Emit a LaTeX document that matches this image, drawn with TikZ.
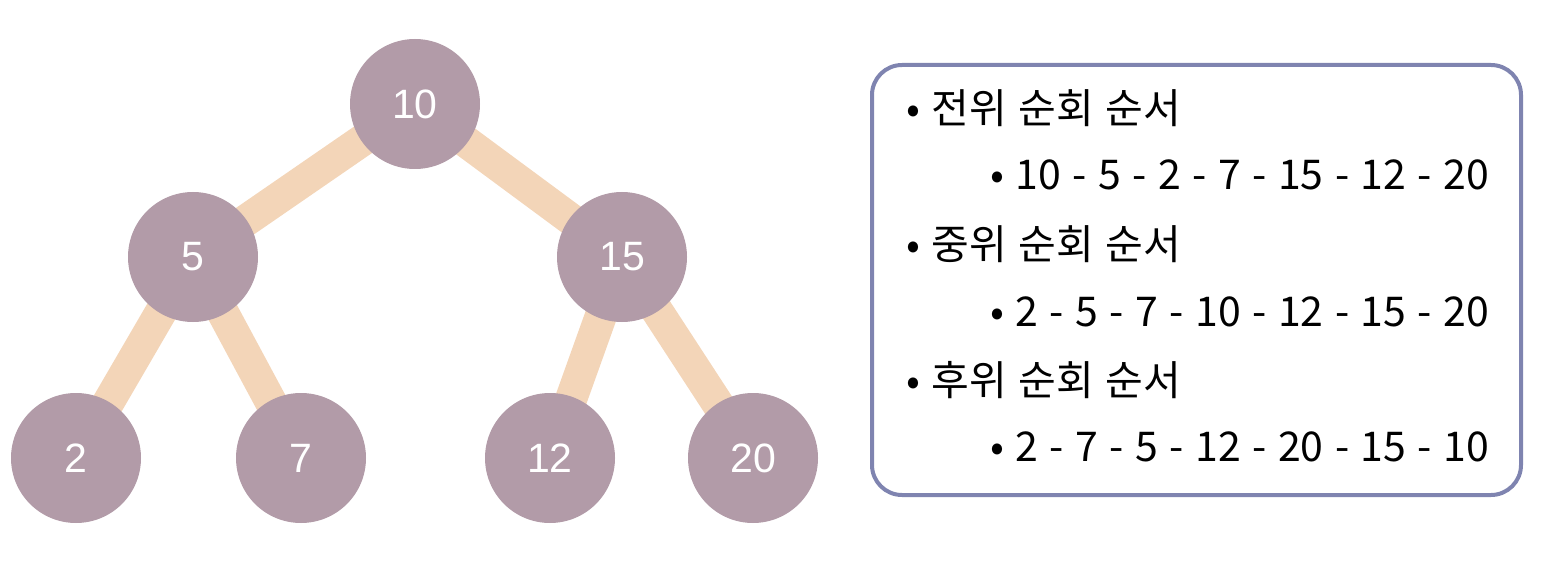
\documentclass[tikz,border=0pt]{standalone}
\usepackage{fontspec}
\setmainfont{Liberation Sans}
\newfontfamily\krfont[WordSpace=1.25]{Noto Sans CJK KR}
\usetikzlibrary{backgrounds}
\definecolor{nodefill}{HTML}{B29BA8}
\definecolor{edgecol}{HTML}{F3D5B8}
\definecolor{boxcol}{HTML}{7F84B0}
\tikzset{
  treenode/.style={circle, fill=nodefill, minimum size=130pt, inner sep=0pt, text=white, font=\fontsize{41}{41}\selectfont},
  treeedge/.style={draw=edgecol, line width=32pt},
  listbox/.style={draw=boxcol, line width=4pt, rounded corners=30pt},
  itemtext/.style={anchor=base west, inner sep=0pt, font=\krfont\fontsize{41}{41}\selectfont}
}
\begin{document}
\begin{tikzpicture}[x=1pt,y=-1pt]
\useasboundingbox (0,0) rectangle (1564,564);
\node[treenode] (n10) at (415,104) {10};
\node[treenode] (n5) at (193,257) {5};
\node[treenode] (n15) at (622,257) {15};
\node[treenode] (n2) at (76,458) {2};
\node[treenode] (n7) at (301,458) {7};
\node[treenode] (n12) at (550,458) {12};
\node[treenode] (n20) at (753,458) {20};
\begin{scope}[on background layer]
\draw[treeedge] (n10.center) -- (n5.center);
\draw[treeedge] (n10.center) -- (n15.center);
\draw[treeedge] (n5.center) -- (n2.center);
\draw[treeedge] (n5.center) -- (n7.center);
\draw[treeedge] (n15.center) -- (n12.center);
\draw[treeedge] (n15.center) -- (n20.center);
\end{scope}
\draw[listbox] (872,65) rectangle (1521,495);
\node[itemtext] (l1) at (906,124) {• 전위 순회 순서};
\node[itemtext] (l2) at (990,190) {• 10 - 5 - 2 - 7 - 15 - 12 - 20};
\node[itemtext] (l3) at (906,260) {• 중위 순회 순서};
\node[itemtext] (l4) at (990,326) {• 2 - 5 - 7 - 10 - 12 - 15 - 20};
\node[itemtext] (l5) at (906,395) {• 후위 순회 순서};
\node[itemtext] (l6) at (990,461) {• 2 - 7 - 5 - 12 - 20 - 15 - 10};
\end{tikzpicture}
\end{document}
